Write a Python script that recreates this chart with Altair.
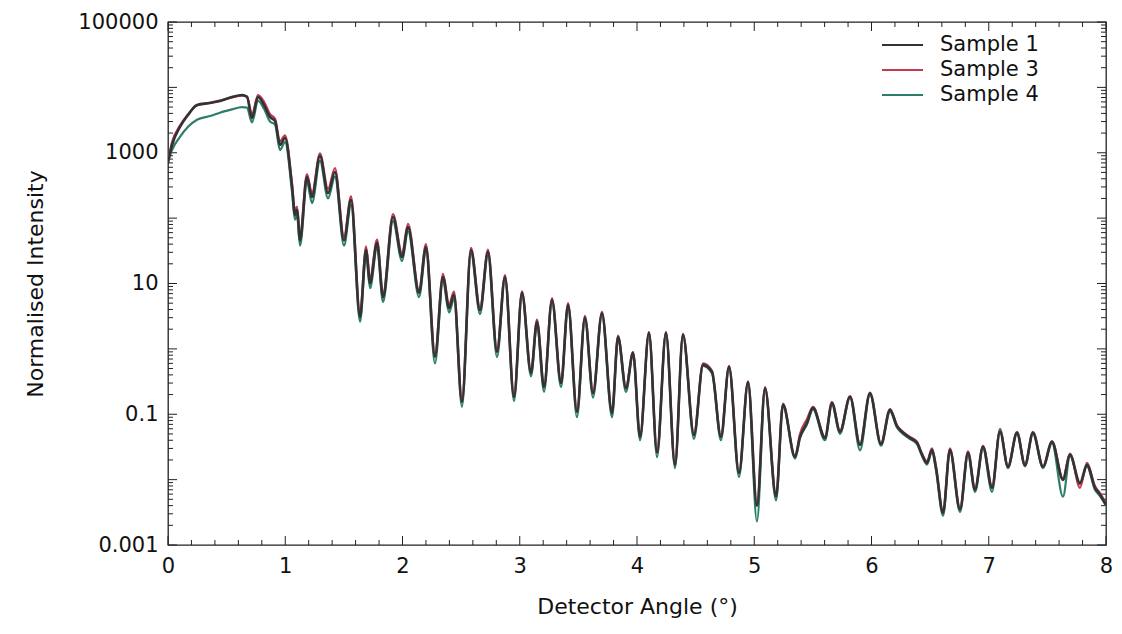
import altair as alt
import pandas as pd

# ---------------- data ----------------
angle = [
    0.000, 0.034, 0.102, 0.171, 0.247, 0.358, 0.443, 0.546, 0.631, 0.674,
    0.716, 0.768, 0.819, 0.870, 0.913, 0.955, 0.998, 1.058, 1.083, 1.100,
    1.126, 1.185, 1.228, 1.296, 1.365, 1.424, 1.501, 1.561, 1.638, 1.689,
    1.723, 1.783, 1.834, 1.919, 1.996, 2.047, 2.141, 2.200, 2.277, 2.345,
    2.397, 2.439, 2.507, 2.584, 2.661, 2.729, 2.806, 2.874, 2.951, 3.019,
    3.096, 3.147, 3.207, 3.275, 3.352, 3.412, 3.488, 3.556, 3.625, 3.701,
    3.787, 3.838, 3.906, 3.966, 4.026, 4.102, 4.171, 4.247, 4.324, 4.392,
    4.486, 4.563, 4.640, 4.716, 4.785, 4.870, 4.947, 5.023, 5.092, 5.186,
    5.245, 5.348, 5.390, 5.450, 5.501, 5.603, 5.663, 5.731, 5.817, 5.902,
    5.987, 6.081, 6.158, 6.217, 6.269, 6.328, 6.388, 6.431, 6.473, 6.516,
    6.550, 6.610, 6.669, 6.755, 6.823, 6.883, 6.951, 7.028, 7.096, 7.164,
    7.241, 7.309, 7.377, 7.463, 7.539, 7.633, 7.693, 7.778, 7.838, 7.906,
    7.949, 8.000,
]

sample1 = [
    700, 1300, 2480, 3790, 5380, 5770, 6200, 7130, 7650, 7130,
    3400, 7130, 5380, 3520, 3060, 1315, 1680, 300, 112, 133,
    46, 427, 211, 893, 243, 508, 46, 190, 3.1, 32.6,
    10.2, 41.8, 6.2, 104, 25.5, 73, 7.2, 36, 0.76, 12.6,
    4.2, 6.7, 0.155, 32.6, 3.9, 30.4, 0.9, 12.6, 0.185, 7.2,
    0.43, 2.6, 0.26, 5.6, 0.30, 4.7, 0.109, 3.0, 0.21, 3.5,
    0.105, 1.52, 0.25, 0.87, 0.045, 1.76, 0.026, 1.76, 0.0168, 1.64,
    0.048, 0.57, 0.44, 0.045, 0.53, 0.0127, 0.31, 0.004, 0.25, 0.0055,
    0.139, 0.0223, 0.045, 0.074, 0.125, 0.0435, 0.149, 0.054, 0.185, 0.034,
    0.21, 0.035, 0.117, 0.066, 0.052, 0.0435, 0.0366, 0.024, 0.018, 0.0286,
    0.0151, 0.0031, 0.0286, 0.0035, 0.0257, 0.007, 0.0318, 0.0075, 0.054, 0.0157,
    0.052, 0.0168, 0.052, 0.0157, 0.038, 0.0099, 0.024, 0.0089, 0.0168, 0.0075,
    0.0059, 0.0041,
]

sample3 = [
    760, 1450, 2600, 3900, 5300, 5800, 6300, 7000, 7500, 7300,
    3900, 7600, 6000, 3900, 3300, 1500, 1850, 340, 130, 150,
    55, 470, 240, 980, 280, 580, 52, 215, 3.6, 37,
    12, 47, 7.0, 115, 29, 82, 8.0, 40, 0.85, 14,
    4.8, 7.5, 0.17, 35, 4.3, 33, 1.0, 13.5, 0.2, 7.6,
    0.46, 2.8, 0.28, 6.0, 0.32, 5.0, 0.115, 3.2, 0.22, 3.7,
    0.11, 1.6, 0.26, 0.9, 0.047, 1.8, 0.027, 1.8, 0.018, 1.7,
    0.05, 0.6, 0.46, 0.047, 0.55, 0.013, 0.32, 0.0042, 0.26, 0.006,
    0.145, 0.023, 0.05, 0.085, 0.13, 0.045, 0.155, 0.056, 0.19, 0.035,
    0.215, 0.036, 0.12, 0.068, 0.054, 0.045, 0.038, 0.025, 0.019, 0.03,
    0.016, 0.0033, 0.03, 0.0037, 0.027, 0.0075, 0.033, 0.008, 0.056, 0.016,
    0.054, 0.017, 0.054, 0.016, 0.039, 0.0105, 0.025, 0.0075, 0.018, 0.008,
    0.0062, 0.0043,
]

sample4 = [
    760, 1100, 1750, 2500, 3200, 3650, 4100, 4600, 5000, 4900,
    2900, 6200, 4700, 3000, 2700, 1100, 1450, 250, 95, 115,
    38, 360, 170, 750, 200, 430, 38, 160, 2.6, 28,
    8.5, 36, 5.2, 90, 22, 63, 6.2, 31, 0.6, 11,
    3.6, 5.8, 0.13, 29, 3.4, 27, 0.75, 11.5, 0.16, 6.6,
    0.38, 2.4, 0.22, 5.2, 0.26, 4.4, 0.09, 2.8, 0.18, 3.3,
    0.09, 1.45, 0.22, 0.82, 0.04, 1.7, 0.022, 1.7, 0.015, 1.58,
    0.042, 0.55, 0.42, 0.04, 0.51, 0.011, 0.3, 0.0023, 0.24, 0.0048,
    0.135, 0.021, 0.043, 0.07, 0.12, 0.04, 0.14, 0.05, 0.18, 0.028,
    0.2, 0.033, 0.11, 0.063, 0.05, 0.042, 0.035, 0.023, 0.017, 0.027,
    0.014, 0.0028, 0.027, 0.0032, 0.024, 0.0065, 0.03, 0.0065, 0.06, 0.015,
    0.05, 0.016, 0.05, 0.015, 0.036, 0.0055, 0.023, 0.0085, 0.016, 0.007,
    0.0056, 0.004,
]

series_names = ["Sample 1", "Sample 3", "Sample 4"]
series_colors = ["#333333", "#c23a50", "#2e7d6c"]
series_widths = [2.6, 2.2, 2.2]

x_major = [0, 1, 2, 3, 4, 5, 6, 7, 8]
x_minor = [0.2, 0.4, 0.6, 0.8, 1.2, 1.4, 1.6, 1.8, 2.2, 2.4, 2.6, 2.8,
           3.2, 3.4, 3.6, 3.8, 4.2, 4.4, 4.6, 4.8, 5.2, 5.4, 5.6, 5.8,
           6.2, 6.4, 6.6, 6.8, 7.2, 7.4, 7.6, 7.8]
y_labels = [0.001, 0.1, 10, 1000, 100000]
y_major = [0.001, 0.01, 0.1, 1, 10, 100, 1000, 10000, 100000]
y_minor = [m * 10.0 ** e for e in range(-3, 5) for m in range(2, 10)]

# ---------------- layout ----------------
W, H = 938, 523
FONT = "DejaVu Sans"
MAJ, MIN = 9, 5

xscale = alt.Scale(domain=[0, 8], nice=False, zero=False)
yscale = alt.Scale(type="log", domain=[0.001, 100000], nice=False)

x_axis = alt.Axis(values=x_major, format="d", ticks=False, domain=False, grid=False,
                  labelFlush=False, labelPadding=10, labelFontSize=21, labelFont=FONT,
                  labelColor="#111", title="Detector Angle (°)", titleFont=FONT,
                  titleFontSize=22, titleFontWeight="normal", titleColor="#111",
                  titlePadding=20)
y_axis = alt.Axis(values=y_labels, format="~g", ticks=False, domain=False, grid=False,
                  labelFlush=False, labelPadding=10, labelFontSize=21, labelFont=FONT,
                  labelColor="#111", title="Normalised Intensity", titleFont=FONT,
                  titleFontSize=22, titleFontWeight="normal", titleColor="#111",
                  titlePadding=30)

def X(field="angle"):
    return alt.X(f"{field}:Q", scale=xscale, axis=x_axis)

def Y(field="intensity"):
    return alt.Y(f"{field}:Q", scale=yscale, axis=y_axis)

# data lines (draw Sample 4, then 3, then 1 on top)
values = {"Sample 1": sample1, "Sample 3": sample3, "Sample 4": sample4}
line_layers = []
for name in ["Sample 4", "Sample 3", "Sample 1"]:
    i = series_names.index(name)
    df = pd.DataFrame({"angle": angle, "intensity": values[name]})
    line_layers.append(
        alt.Chart(df).mark_line(color=series_colors[i], strokeWidth=series_widths[i],
                                interpolate="monotone", clip=True)
        .encode(x=X(), y=Y())
    )

# inward ticks on all four sides
def xticks(vals, length):
    d = pd.DataFrame({"angle": vals})
    base = alt.Chart(d).mark_rule(color="#222", strokeWidth=1)
    return [
        base.encode(x=X(), y=alt.value(H), y2=alt.value(H - length)),
        base.encode(x=X(), y=alt.value(0), y2=alt.value(length)),
    ]

def yticks(vals, length):
    d = pd.DataFrame({"intensity": vals})
    base = alt.Chart(d).mark_rule(color="#222", strokeWidth=1)
    return [
        base.encode(y=Y(), x=alt.value(0), x2=alt.value(length)),
        base.encode(y=Y(), x=alt.value(W), x2=alt.value(W - length)),
    ]

tick_layers = xticks(x_major, MAJ) + xticks(x_minor, MIN) + yticks(y_major, MAJ) + yticks(y_minor, MIN)

# legend (top right)
one = pd.DataFrame({"k": [0]})
legend_layers = []
for i, (name, col) in enumerate(zip(series_names, series_colors)):
    yrow = 23 + 25 * i
    legend_layers.append(
        alt.Chart(one).mark_rule(color=col, strokeWidth=2)
        .encode(x=alt.value(714), x2=alt.value(755), y=alt.value(yrow))
    )
    legend_layers.append(
        alt.Chart(one).mark_text(align="left", baseline="middle", font=FONT,
                                 fontSize=21, color="#111")
        .encode(x=alt.value(772), y=alt.value(yrow), text=alt.value(name))
    )

chart = alt.layer(*tick_layers, *line_layers, *legend_layers).properties(
    width=W, height=H,
    autosize=alt.AutoSizeParams(type="none"),
    padding={"left": 160, "top": 14, "right": 6, "bottom": 80},
    background="white",
).configure_view(stroke="#222", strokeWidth=1.3)

chart.save("out.html", embed_options={"renderer": "svg", "actions": False})
